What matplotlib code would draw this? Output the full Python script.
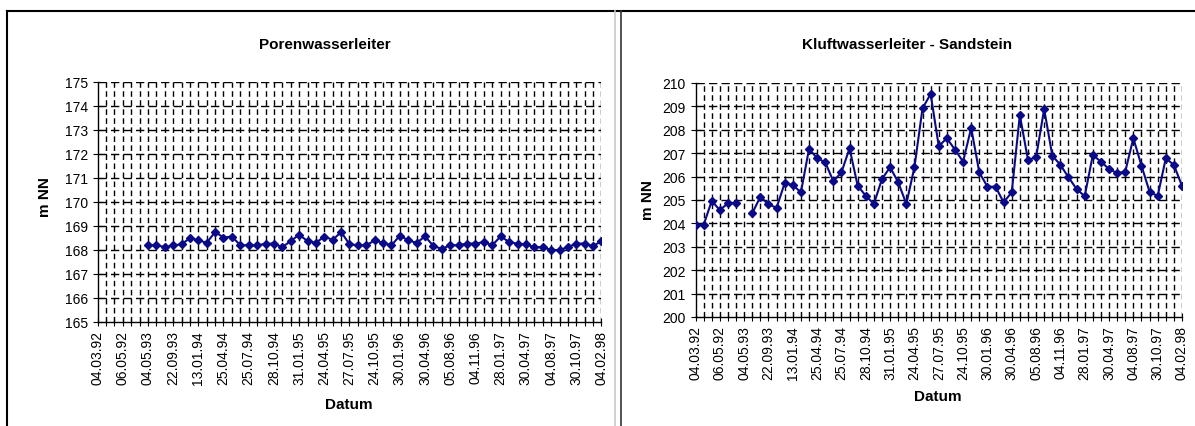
import numpy as np
import matplotlib
matplotlib.use('Agg')
import matplotlib.pyplot as plt
from matplotlib.lines import Line2D

plt.rcParams['font.family'] = ['Liberation Sans', 'DejaVu Sans']

# category axis: 61 sampling dates, every third one labelled
date_labels = ['04.03.92', '06.05.92', '04.05.93', '22.09.93', '13.01.94', '25.04.94',
               '25.07.94', '28.10.94', '31.01.95', '24.04.95', '27.07.95', '24.10.95',
               '30.01.96', '30.04.96', '05.08.96', '04.11.96', '28.01.97', '30.04.97',
               '04.08.97', '30.10.97', '04.02.98']
n_cat = 61
label_step = 3

# Porenwasserleiter (m NN), no data for the first 6 dates
poren = [None] * 6 + [
    168.19, 168.20, 168.12, 168.19, 168.24, 168.49, 168.41, 168.30, 168.75, 168.52,
    168.56, 168.20, 168.20, 168.19, 168.26, 168.27, 168.12, 168.37, 168.64, 168.37,
    168.30, 168.56, 168.42, 168.75, 168.24, 168.20, 168.20, 168.40, 168.30, 168.20,
    168.60, 168.40, 168.30, 168.57, 168.16, 168.05, 168.20, 168.20, 168.27, 168.27,
    168.33, 168.20, 168.57, 168.33, 168.26, 168.23, 168.12, 168.12, 168.00, 168.00,
    168.12, 168.27, 168.27, 168.16, 168.38]

# Kluftwasserleiter - Sandstein (m NN), one missing value
kluft = [
    203.93, 203.93, 204.96, 204.57, 204.86, 204.89, None, 204.43, 205.14, 204.81,
    204.67, 205.72, 205.64, 205.33, 207.18, 206.79, 206.61, 205.80, 206.18, 207.21,
    205.61, 205.18, 204.83, 205.90, 206.40, 205.76, 204.83, 206.40, 208.92, 209.53,
    207.30, 207.64, 207.15, 206.64, 208.08, 206.18, 205.57, 205.57, 204.90, 205.33,
    208.63, 206.72, 206.82, 208.89, 206.90, 206.50, 205.97, 205.47, 205.16, 206.92,
    206.64, 206.32, 206.15, 206.21, 207.64, 206.47, 205.35, 205.17, 206.78, 206.50,
    205.60]

W, H = 1195, 427
fig = plt.figure(figsize=(W / 100, H / 100), dpi=100)


def px_box(x0, y_top, x1, y_bot):
    return [x0 / W, 1 - y_bot / H, (x1 - x0) / W, (y_bot - y_top) / H]


def draw_panel(ax, values, ylo, yhi):
    x = np.arange(n_cat)
    y = np.array([np.nan if v is None else v for v in values], dtype=float)
    ax.set_xlim(0, n_cat - 1)
    ax.set_ylim(ylo, yhi)
    ax.set_yticks(np.arange(ylo, yhi + 1, 1))
    ax.set_xticks(x, minor=True)
    ax.set_xticks(x[::label_step])
    ax.set_xticklabels(date_labels, rotation=90, fontsize=10)
    ax.tick_params(axis='y', labelsize=10, direction='inout', length=7, width=0.8)
    ax.tick_params(axis='x', which='both', direction='inout', length=6, width=0.8, pad=3)
    for s in ['top', 'right']:
        ax.spines[s].set_visible(False)
    ax.spines['left'].set_linewidth(1.0)
    ax.spines['bottom'].set_linewidth(1.0)
    # dashed grid like the old spreadsheet export
    for xi in x[1:]:
        ax.axvline(xi, color='black', lw=1.0, ls=(0, (4, 2.5)), zorder=1)
    for yi in np.arange(ylo + 1, yhi + 1, 1):
        ax.axhline(yi, color='black', lw=1.0, ls=(0, (6, 3)), zorder=1)
    ax.plot(x, y, color='#0a0a88', lw=1.5, marker='D', ms=4.5, zorder=3)


ax1 = fig.add_axes(px_box(97.5, 83, 601.5, 323))
draw_panel(ax1, poren, 165, 175)
ax2 = fig.add_axes(px_box(695.5, 84, 1182, 318))
draw_panel(ax2, kluft, 200, 210)

fig.text(325 / W, 1 - 45 / H, 'Porenwasserleiter', ha='center', va='center',
         fontsize=11, fontweight='bold')
fig.text(907 / W, 1 - 45 / H, 'Kluftwasserleiter - Sandstein', ha='center', va='center',
         fontsize=11, fontweight='bold')
fig.text(45 / W, 1 - 197 / H, 'm NN', rotation=90, ha='center', va='center',
         fontsize=11, fontweight='bold')
fig.text(648 / W, 1 - 200 / H, 'm NN', rotation=90, ha='center', va='center',
         fontsize=11, fontweight='bold')
fig.text(349 / W, 1 - 405 / H, 'Datum', ha='center', va='center',
         fontsize=11, fontweight='bold')
fig.text(938 / W, 1 - 397 / H, 'Datum', ha='center', va='center',
         fontsize=11, fontweight='bold')

# frame of the two chart boxes
fig.add_artist(Line2D([7 / W, 1], [1 - 12 / H, 1 - 12 / H], color='black', lw=1.5))
fig.add_artist(Line2D([7 / W, 7 / W], [0, 1 - 12 / H], color='black', lw=1.5))
fig.add_artist(Line2D([615 / W, 615 / W], [0, 1 - 12 / H], color='#c8c8c8', lw=1.2))
fig.add_artist(Line2D([621 / W, 621 / W], [0, 1 - 12 / H], color='#333333', lw=1.2))

fig.savefig('out.png', dpi=100)
